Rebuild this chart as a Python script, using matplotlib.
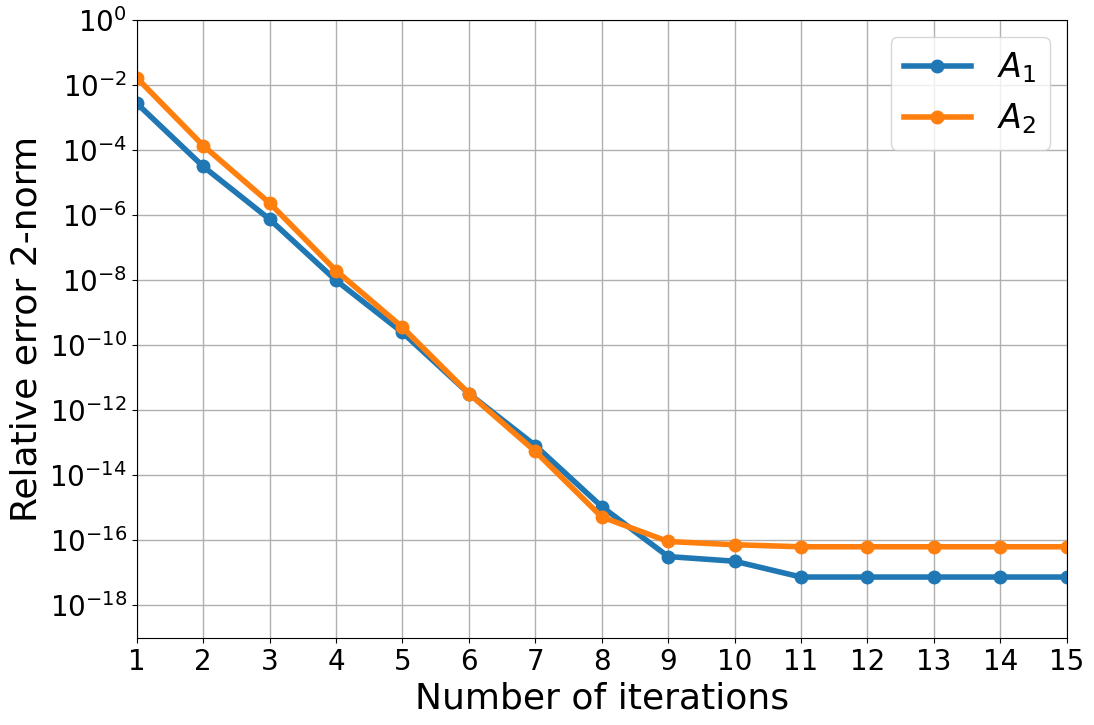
import numpy as np
import matplotlib
matplotlib.use("Agg")
import matplotlib.pyplot as plt

# data
iterations = np.arange(1, 16)
err_A1 = [2.8e-3, 3.2e-5, 7.6e-7, 1.0e-8, 2.5e-10, 3.3e-12, 8.3e-14, 1.1e-15,
          3.2e-17, 2.3e-17, 7.5e-18, 7.5e-18, 7.5e-18, 7.5e-18, 7.5e-18]
err_A2 = [1.7e-2, 1.4e-4, 2.4e-6, 2.0e-8, 3.6e-10, 3.3e-12, 5.5e-14, 5.3e-16,
          9.3e-17, 7.4e-17, 6.4e-17, 6.4e-17, 6.4e-17, 6.4e-17, 6.4e-17]

fig = plt.figure(figsize=(10.94, 7.25), dpi=100)
ax = fig.add_axes([0.125, 0.12, 0.85, 0.852])

ax.semilogy(iterations, err_A1, '-o', lw=4, ms=9, color='#1f77b4', label=r'$A_1$')
ax.semilogy(iterations, err_A2, '-o', lw=4, ms=9, color='#ff7f0e', label=r'$A_2$')

ax.set_xlim(1, 15)
ax.set_ylim(1e-19, 1)
ax.set_xticks(iterations)
ax.set_yticks([10.0**k for k in range(-18, 1, 2)])
ax.minorticks_off()
ax.grid(True, color='#b0b0b0', lw=1)
ax.tick_params(labelsize=20)

ax.set_xlabel('Number of iterations', fontsize=26)
ax.set_ylabel('Relative error 2-norm', fontsize=26)
ax.legend(fontsize=24, loc='upper right')

plt.savefig('out.png', dpi=100)
